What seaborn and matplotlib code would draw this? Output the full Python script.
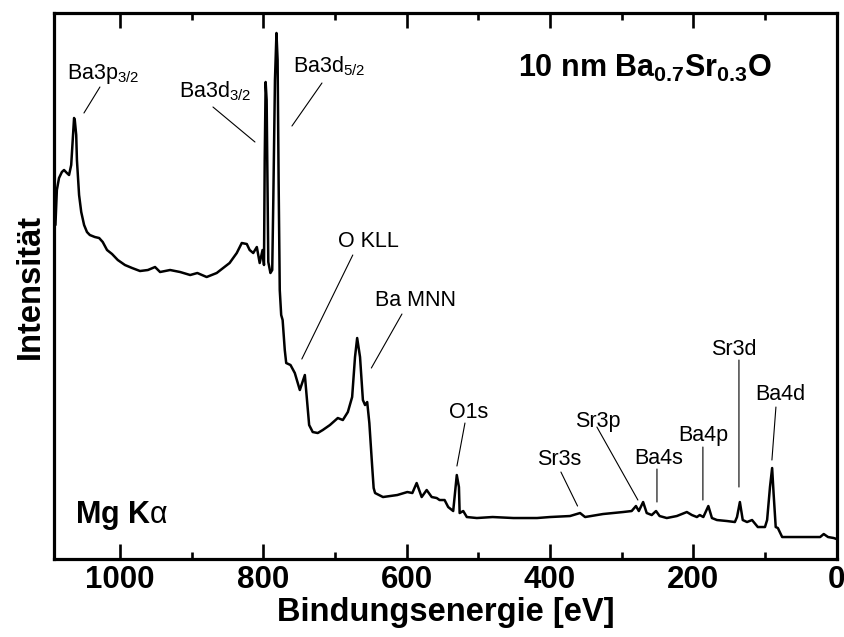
import matplotlib
matplotlib.use("Agg")
import matplotlib.pyplot as plt
import seaborn as sns
import pandas as pd
from matplotlib.ticker import MultipleLocator

# ---------------- data ----------------
energy = [1090, 1088, 1085, 1081, 1078, 1074, 1071, 1068, 1065, 1064, 1063, 1061,
          1060, 1057, 1054, 1050, 1046, 1042, 1035, 1029, 1024, 1018, 1011, 1003,
          993, 983, 972, 961, 951, 944, 930, 916, 902, 892, 879, 865, 856, 847,
          837, 830, 823, 819, 814, 809, 805, 801, 799, 798, 796.7, 795.3, 794, 793,
          790, 787.5, 786, 783.7, 781.6, 780, 778.6, 777, 775, 773, 770, 768, 762,
          756, 749, 742, 739, 736, 731, 724, 717, 707, 696, 689, 682, 676, 672,
          669, 665, 661, 658, 655, 652, 648, 646, 644, 633, 613, 599, 592, 586,
          579, 572, 565, 558, 554, 547, 542, 535, 533, 530, 527, 526, 521, 516,
          502, 480, 451, 418, 400, 372, 358, 351, 326, 298, 286, 280, 276, 270,
          265, 258, 252, 247, 237, 223, 209, 202, 195, 191, 186, 179, 174, 167,
          153, 142, 139, 135, 131, 125, 118, 110, 100, 97, 93, 90, 88, 85, 82,
          76, 65, 42, 23, 18, 12, 4, 0]
intensity = [334, 369, 381, 387, 389, 386, 384, 394, 429, 441, 439, 424,
             399, 364, 347, 334, 327, 324, 322, 321, 317, 309, 305, 299,
             294, 291, 288, 289, 292, 287, 289, 287, 284, 286, 282, 286, 291, 296,
             306, 316, 315, 309, 306, 312, 296, 309, 294, 399, 477, 459, 369, 297,
             286, 289, 359, 479, 526, 499, 379, 269, 244, 239, 209, 196, 194,
             186, 169, 184, 159, 134, 127, 126, 129, 134, 141, 139, 147, 162, 202,
             221, 202, 159, 154, 157, 136, 92, 71, 66, 62, 64, 67, 66, 76,
             62, 69, 62, 61, 59, 59, 52, 48, 62, 84, 72, 46, 48, 42,
             41, 42, 41, 41, 42, 43, 46, 42, 45, 47, 48, 53, 48, 57,
             46, 44, 48, 43, 41, 43, 47, 44, 42, 44, 42, 53, 41, 39,
             38, 37, 42, 57, 39, 37, 39, 32, 32, 39, 72, 91, 66, 32, 31,
             22, 22, 22, 22, 25, 22, 21, 20]

x_major_ticks = [1000, 800, 600, 400, 200, 0]
x_tick_labels = ["1000", "800", "600", "400", "200", "0"]

peak_labels = [r"Ba3p$_{\mathrm{3/2}}$", r"Ba3d$_{\mathrm{3/2}}$", r"Ba3d$_{\mathrm{5/2}}$",
               "O KLL", "Ba MNN", "O1s", "Sr3s", "Sr3p", "Ba4s", "Ba4p", "Sr3d", "Ba4d"]
label_E = [1074, 917.6, 758.7, 695.7, 644.6, 541, 418.6, 365, 282.8, 221.4, 175.4, 114]
label_I = [480, 462, 487, 312.5, 253, 141, 94, 132, 95, 118, 204, 159]
leader_start_E = [1027.9, 870.2, 718.1, 675.1, 606.5, 518.6, 384.7, 334.5, 250.7, 186.6, 136.3, 84.7]
leader_start_I = [472, 452, 476, 304, 245, 136, 87, 132, 90, 112, 199, 152]
leader_end_E = [1050.2, 811.6, 760.0, 746.2, 649.2, 529.8, 361.5, 277.3, 250.7, 186.6, 136.3, 90.3]
leader_end_I = [446, 417, 433, 200, 191, 93, 53, 59, 57, 59, 72, 99]

sample_text = r"10 nm Ba$_{\mathbf{0.7}}$Sr$_{\mathbf{0.3}}$O"
source_text = r"Mg K$\mathrm{\alpha}$"

# ---------------- style ----------------
sns.set_style("ticks")
plt.rcParams["font.family"] = ["Liberation Sans", "DejaVu Sans"]
plt.rcParams["mathtext.fontset"] = "custom"
plt.rcParams["mathtext.rm"] = "Liberation Sans"
plt.rcParams["mathtext.bf"] = "Liberation Sans:bold"
plt.rcParams["mathtext.it"] = "Liberation Sans:italic"
plt.rcParams["text.color"] = "black"
plt.rcParams["axes.labelcolor"] = "black"
plt.rcParams["xtick.color"] = "black"
plt.rcParams["ytick.color"] = "black"
plt.rcParams["axes.edgecolor"] = "black"

fig = plt.figure(figsize=(8.45, 6.37), dpi=100)
ax = fig.add_axes([0.0639, 0.1224, 0.9262, 0.8572])

df = pd.DataFrame({"E": energy, "I": intensity})
sns.lineplot(data=df, x="E", y="I", ax=ax, color="black", linewidth=1.8,
             estimator=None, sort=True)

ax.set_xlim(1092, 0)
ax.set_ylim(0, 546)

ax.set_xticks(x_major_ticks, x_tick_labels, fontweight="bold", color="black")
ax.xaxis.set_minor_locator(MultipleLocator(100))
ax.tick_params(axis="x", which="major", direction="in", length=10.5, width=1.9,
               top=True, bottom=True, labelsize=22.5, pad=4, color="black",
               labelcolor="black")
ax.tick_params(axis="x", which="minor", direction="in", length=5, width=1.9,
               top=True, bottom=True, color="black")
ax.set_yticks([])
ax.tick_params(axis="y", left=False, labelleft=False)

for s in ax.spines.values():
    s.set_linewidth(2.3)
    s.set_color("black")

ax.set_xlabel("Bindungsenergie [eV]", fontsize=23.5, fontweight="bold", labelpad=2,
              color="black")
ax.set_ylabel("Intensität", fontsize=23.5, fontweight="bold", color="black")
ax.yaxis.set_label_coords(-0.0102, 0.5)

for lab, ex, iy, sx, sy, qx, qy in zip(peak_labels, label_E, label_I,
                                        leader_start_E, leader_start_I,
                                        leader_end_E, leader_end_I):
    ax.text(ex, iy, lab, fontsize=15.5, ha="left", va="baseline", color="black")
    ax.annotate("", xy=(qx, qy), xytext=(sx, sy),
                arrowprops=dict(arrowstyle="-", lw=0.8, color="black",
                                shrinkA=0, shrinkB=0))

ax.text(0.593, 0.883, sample_text, transform=ax.transAxes, fontsize=22,
        fontweight="bold", ha="left", va="baseline", color="black")
ax.text(0.0268, 0.066, source_text, transform=ax.transAxes, fontsize=22,
        fontweight="bold", ha="left", va="baseline", color="black")

fig.savefig("out.png", dpi=100)
